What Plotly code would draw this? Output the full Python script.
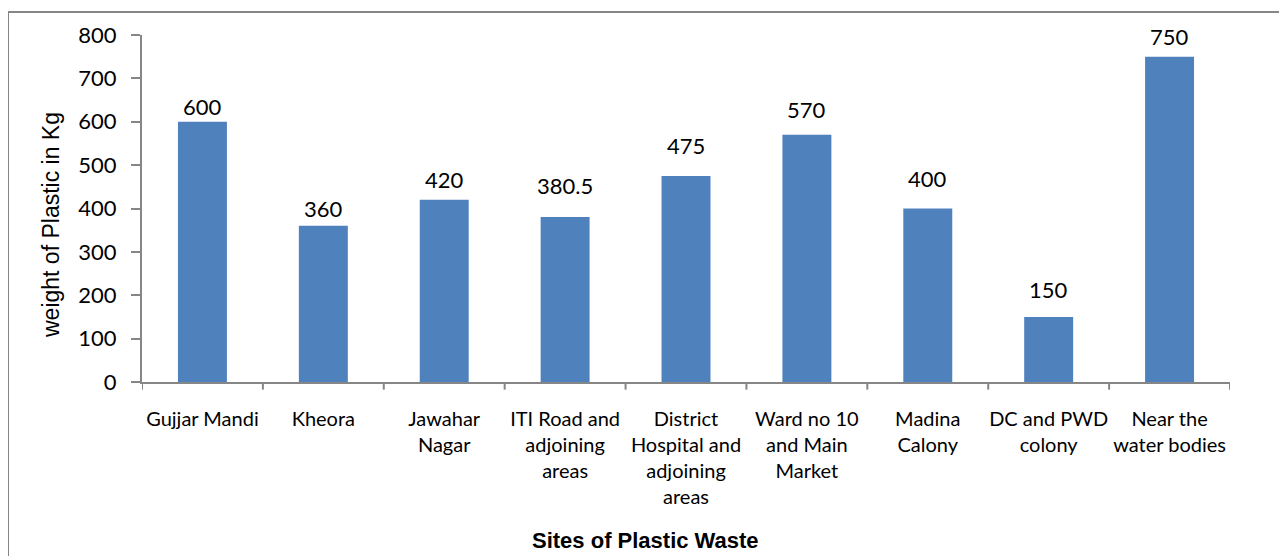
import plotly.graph_objects as go

sites = [
    "Gujjar Mandi",
    "Kheora",
    "Jawahar<br>Nagar",
    "ITI Road and<br>adjoining<br>areas",
    "District<br>Hospital and<br>adjoining<br>areas",
    "Ward no 10<br>and Main<br>Market",
    "Madina<br>Calony",
    "DC and PWD<br>colony",
    "Near the<br>water bodies",
]
weights = [600, 360, 420, 380.5, 475, 570, 400, 150, 750]
labels = ["600", "360", "420", "380.5", "475", "570", "400", "150", "750"]
y_ticks = [0, 100, 200, 300, 400, 500, 600, 700, 800]
# pixel gap between each data label's baseline and its bar top (labels were hand-placed)
label_gap_px = [8, 10, 13, 24, 23, 18, 23, 20, 13]

FONT = "Lato, Open Sans, sans-serif"
ARIAL = "Liberation Sans, Arial, sans-serif"
GREY = "#868686"
x_idx = list(range(len(sites)))

# the page body has an 8px margin; offset the layout so the plot lands where the reference has it
OFF = 8
L, T, W, H = 142 - OFF, 35 - OFF, 1088, 347

fig = go.Figure(
    go.Bar(
        x=x_idx,
        y=weights,
        marker=dict(color="#4F81BD", line=dict(width=0)),
        cliponaxis=False,
        hovertemplate="%{y}<extra></extra>",
    )
)

fig.update_layout(
    width=1287,
    height=556,
    margin=dict(l=L, r=1287 - L - W, t=T, b=556 - T - H),
    paper_bgcolor="white",
    plot_bgcolor="white",
    bargap=0.595,
    showlegend=False,
    font=dict(family=FONT, color="#000000"),
)

fig.update_xaxes(
    type="linear",
    range=[-0.5, len(sites) - 0.5],
    tickmode="array",
    tickvals=x_idx,
    ticktext=sites,
    ticks="",
    ticklabelstandoff=18,
    showline=True,
    linecolor=GREY,
    linewidth=2,
    showgrid=False,
    zeroline=False,
    tickfont=dict(family=FONT, size=20),
)

fig.update_yaxes(
    range=[0, 800],
    tickmode="array",
    tickvals=y_ticks,
    ticks="outside",
    ticklen=9,
    tickcolor=GREY,
    tickwidth=2,
    ticklabelstandoff=10,
    showline=True,
    linecolor=GREY,
    linewidth=2,
    showgrid=False,
    zeroline=False,
    tickfont=dict(family=FONT, size=22),
)

shapes = []
# category boundary tick marks on x axis
for k in range(len(sites) + 1):
    shapes.append(dict(
        type="line", xref="x", yref="paper",
        x0=k - 0.5, x1=k - 0.5, y0=0, y1=-0.022,
        line=dict(color=GREY, width=2),
    ))
# x axis line extending under the y ticks
shapes.append(dict(
    type="line", xref="paper", yref="paper",
    x0=-9 / W, x1=0, y0=0, y1=0,
    line=dict(color=GREY, width=2),
))
# outer chart border
shapes.append(dict(
    type="rect", xref="paper", yref="paper",
    x0=(8 - 142) / W, x1=(1300 - 142) / W,
    y0=(382 - 570) / H, y1=(382 - 12) / H,
    line=dict(color=GREY, width=2),
    fillcolor="rgba(0,0,0,0)",
    layer="below",
))
fig.update_layout(shapes=shapes)

# data labels
for xi, val, lab, gap in zip(x_idx, weights, labels, label_gap_px):
    fig.add_annotation(
        x=xi, y=val, xref="x", yref="y",
        text=lab, showarrow=False,
        xanchor="center", yanchor="bottom",
        yshift=gap - 8,
        font=dict(family=FONT, size=22, color="#000000"),
    )

fig.add_annotation(
    text="<b>Sites of Plastic Waste</b>",
    xref="paper", yref="paper",
    x=(645 - 142) / W, y=(382 - 540) / H,
    showarrow=False,
    font=dict(family=ARIAL, size=22),
    xanchor="center", yanchor="middle",
)
fig.add_annotation(
    text="weight of Plastic in Kg",
    xref="paper", yref="paper",
    x=(51 - 142) / W, y=(382 - 225) / H,
    showarrow=False,
    textangle=-90,
    font=dict(family=ARIAL, size=23),
    xanchor="center", yanchor="middle",
)

fig.write_html("out.html")
